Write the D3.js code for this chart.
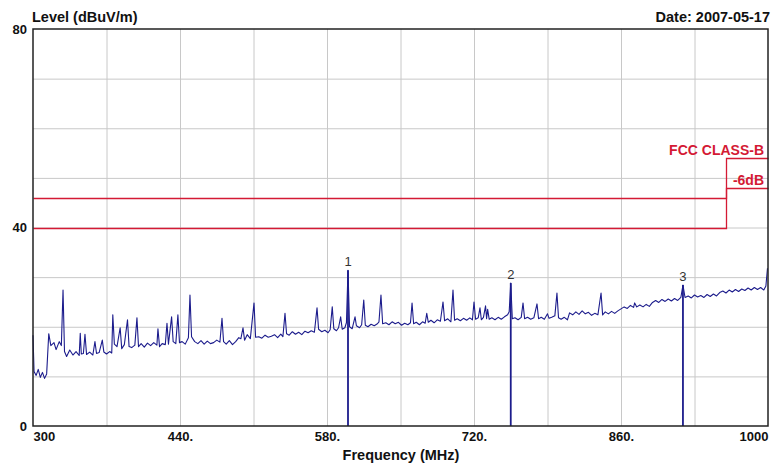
<!DOCTYPE html>
<html>
<head>
<meta charset="utf-8">
<script src="https://cdn.jsdelivr.net/npm/d3@7"></script>
<style>
  body { margin: 0; background: #fff; }
  text { font-family: "Liberation Sans", Arial, sans-serif; }
</style>
</head>
<body>
<div id="chart"></div>
<script>
// x tick labels (MHz) and y tick labels (dBuV/m)
const xTicks = [300, 440, 580, 720, 860, 1000]
const xTickLabels = ["300", "440.", "580.", "720.", "860.", "1000"]
const yTicks = [0, 40, 80]

// limit lines: [freq, level]
const fccClassB = [[300, 46], [960, 46], [960, 54], [1000, 54]]
const margin6dB = [[300, 40], [960, 40], [960, 48], [1000, 48]]

// markers
const markerIds = [1, 2, 3]
const markerFreq = [600, 755, 919]
const markerLevel = [31.4, 28.8, 28.4]

// measured trace: [freq MHz, level dBuV/m]
const trace = [
  [300,18.3],[301,11.0],[303,10.2],[305,11.4],[307,9.8],[309,10.8],[311,9.6],[313,10.5],
  [315,18.6],[317,16.2],[320,16.8],[322,15.4],[325,17.0],[327,16.2],[328.6,27.4],[330,15.0],
  [332,14.0],[335,15.3],[338,14.3],[341,15.0],[344,14.2],[345,18.7],[346,14.5],[348,14.6],
  [349.5,18.5],[351,14.4],[354,14.9],[357,14.3],[359,17.0],[360.5,14.6],[363,14.8],[366,17.3],
  [367.5,14.9],[370,14.5],[373,15.0],[375,14.7],[376,22.4],[377.5,16.5],[380,16.0],[383,19.8],
  [384.5,15.6],[387,16.4],[390,21.4],[391.5,16.0],[394,15.8],[397,16.3],[399,21.8],[400.5,16.0],
  [403,16.6],[406,15.9],[409,16.7],[412,16.2],[415,16.8],[418,16.3],[419,19.6],[420.5,16.0],
  [423,16.6],[426,16.4],[427.6,20.7],[429,16.5],[432,22.0],[433.5,17.0],[436,16.6],[438,22.4],
  [439.5,16.8],[442,17.0],[445,16.5],[448,17.8],[449.5,26.4],[451,18.0],[454,17.0],[457,16.6],
  [460,17.2],[463,16.5],[466,17.1],[469,16.6],[472,16.8],[475,17.3],[478,16.9],[480,21.7],
  [481.5,17.0],[484,16.5],[487,17.2],[490,16.4],[493,17.0],[496,17.8],[498,17.6],[500,19.8],
  [501.5,17.3],[504,18.4],[507,17.6],[510.5,24.8],[512,17.9],[515,18.0],[518,17.7],[521,18.3],
  [524,17.9],[527,18.1],[530,18.4],[533,17.8],[536,18.5],[538,18.0],[540,22.7],[541.5,18.6],
  [544,18.3],[547,19.0],[550,18.5],[553,18.9],[556,18.4],[559,19.1],[562,18.8],[565,19.2],
  [568,18.9],[570.5,23.8],[572,19.5],[575,19.0],[578,19.3],[581,18.8],[583,19.4],[585,24.0],
  [586.5,19.6],[589,19.2],[591,19.8],[593,22.0],[594.5,19.5],[597,19.8],[598.5,20.8],[600,31.4],
  [601.5,20.0],[604,19.6],[606.7,22.0],[608,20.2],[611,19.8],[613,20.4],[615,25.4],[616.5,20.3],
  [619,20.0],[622,20.5],[625,20.2],[628,20.6],[629.5,21.0],[631.4,26.4],[633,20.6],[636,20.8],
  [639,20.4],[642,21.0],[645,20.6],[648,20.9],[651,20.3],[654,20.7],[657,20.4],[659.5,20.8],
  [661,24.8],[662.5,20.6],[665,20.9],[668,20.4],[671,21.0],[673.5,20.7],[675,22.7],[676.5,20.9],
  [679,21.3],[682,20.8],[685,21.4],[688,21.1],[690.5,25.0],[692,21.2],[695,21.6],[698,21.0],
  [700,27.4],[701.5,21.3],[704,21.6],[707,21.2],[710,21.7],[713,21.3],[716,21.8],[718.5,21.4],
  [720,25.0],[721.5,21.5],[724,21.8],[725.7,23.8],[727,21.4],[729,21.9],[731,24.2],[732,21.6],
  [733,23.5],[734.5,21.5],[737,21.8],[740,21.4],[743,21.9],[746,21.5],[749,22.0],[752,22.4],
  [753.5,23.0],[755,28.8],[756.5,21.6],[759,21.8],[762,21.4],[765,21.9],[766.7,24.8],[768.2,21.6],
  [771,21.9],[774,21.5],[777,21.8],[780,24.6],[781.5,21.6],[784,21.9],[787,21.5],[790,22.6],
  [791.5,21.7],[794,21.9],[797,22.2],[799,26.8],[800.5,21.8],[803,21.5],[806,21.9],[809,21.4],
  [811,22.8],[814,22.4],[817,23.0],[820,22.5],[823,23.2],[826,22.6],[829,22.9],[832,22.3],
  [835,22.7],[838,22.4],[841,26.8],[842.5,22.4],[845,23.0],[848,22.6],[851,23.1],[854,22.7],
  [857,23.2],[860,23.6],[863,24.0],[866,23.7],[869,24.3],[872,23.9],[873,24.8],[875,24.0],
  [878,24.4],[881,24.0],[884,24.5],[887,24.1],[890,24.9],[893,25.3],[896,24.9],[899,25.5],
  [902,25.1],[905,25.6],[908,25.2],[911,25.7],[914,25.3],[917,25.9],[919,28.4],[921,25.9],
  [924,26.2],[927,25.8],[930,26.4],[933,26.0],[936,26.3],[939,25.9],[942,26.5],[945,26.1],
  [948,26.6],[951,26.2],[954,26.9],[957,27.2],[960,26.8],[963,27.4],[966,27.0],[969,27.5],
  [972,27.1],[975,27.6],[978,27.3],[981,27.8],[984,27.4],[987,27.9],[990,27.5],[993,27.9],
  [996,27.4],[998,28.2],[999.5,31.8]
]

const chartWidth = 779, chartHeight = 465
const plotLeft = 33, plotRight = 768, plotTop = 29, plotBottom = 426
const red = "#d41a34", blue = "#1c1c8c"

const svg = d3.select("#chart").append("svg")
  .attr("width", chartWidth).attr("height", chartHeight)

const x = d3.scaleLinear().domain([300, 1000]).range([plotLeft, plotRight])
const y = d3.scaleLinear().domain([0, 80]).range([plotBottom, plotTop])

// grid
svg.append("g")
  .attr("transform", `translate(0,${plotBottom})`)
  .call(d3.axisBottom(x).tickValues(d3.range(370, 1000, 70)).tickSize(-(plotBottom - plotTop)).tickFormat(""))
  .call(g => g.select(".domain").remove())
  .call(g => g.selectAll("line").attr("stroke", "#c8c8c8"))

svg.append("g")
  .attr("transform", `translate(${plotLeft},0)`)
  .call(d3.axisLeft(y).tickValues(d3.range(10, 80, 10)).tickSize(-(plotRight - plotLeft)).tickFormat(""))
  .call(g => g.select(".domain").remove())
  .call(g => g.selectAll("line").attr("stroke", "#c8c8c8"))

// limit lines
const line = d3.line().x(d => x(d[0])).y(d => y(d[1]))
const limitLine = d3.line().x(d => Math.round(x(d[0])) + 0.5).y(d => Math.round(y(d[1])) + 0.5)
svg.append("path").datum(fccClassB).attr("d", limitLine)
  .attr("fill", "none").attr("stroke", red).attr("stroke-width", 1.3)
svg.append("path").datum(margin6dB).attr("d", limitLine)
  .attr("fill", "none").attr("stroke", red).attr("stroke-width", 1.3)

svg.append("text").attr("x", plotRight - 4).attr("y", y(54) - 3)
  .attr("text-anchor", "end").attr("fill", red)
  .attr("font-size", 14).attr("font-weight", "bold").text("FCC CLASS-B")
svg.append("text").attr("x", plotRight - 4).attr("y", y(48) - 3)
  .attr("text-anchor", "end").attr("fill", red)
  .attr("font-size", 14).attr("font-weight", "bold").text("-6dB")

// markers
markerIds.forEach((id, i) => {
  svg.append("line")
    .attr("x1", x(markerFreq[i])).attr("x2", x(markerFreq[i]))
    .attr("y1", y(markerLevel[i])).attr("y2", y(0))
    .attr("stroke", blue).attr("stroke-width", 1.8)
  svg.append("text")
    .attr("x", x(markerFreq[i])).attr("y", y(markerLevel[i]) - 4)
    .attr("text-anchor", "middle").attr("font-size", 13).attr("fill", "#333")
    .text(id)
})

// trace
svg.append("path").datum(trace).attr("d", line)
  .attr("fill", "none").attr("stroke", blue).attr("stroke-width", 1.1)
  .attr("stroke-linejoin", "round")

// frame
svg.append("rect")
  .attr("x", plotLeft).attr("y", plotTop)
  .attr("width", plotRight - plotLeft).attr("height", plotBottom - plotTop)
  .attr("fill", "none").attr("stroke", "#222").attr("stroke-width", 1.5)

// axes labels
const xAxis = svg.append("g")
  .attr("transform", `translate(0,${plotBottom})`)
  .call(d3.axisBottom(x).tickValues(xTicks).tickSize(0).tickPadding(6)
    .tickFormat((d, i) => xTickLabels[i]))
xAxis.select(".domain").remove()
xAxis.selectAll("text")
  .attr("font-family", "Liberation Sans, Arial, sans-serif")
  .attr("font-size", 13).attr("font-weight", "bold").attr("fill", "#111")
  .attr("text-anchor", (d, i) => i === 0 ? "start" : i === xTicks.length - 1 ? "end" : "middle")

const yAxis = svg.append("g")
  .attr("transform", `translate(${plotLeft},0)`)
  .call(d3.axisLeft(y).tickValues(yTicks).tickSize(0).tickPadding(6))
yAxis.select(".domain").remove()
yAxis.selectAll("text")
  .attr("font-family", "Liberation Sans, Arial, sans-serif")
  .attr("font-size", 13).attr("font-weight", "bold").attr("fill", "#111")

svg.append("text").attr("x", plotLeft - 1).attr("y", 22)
  .attr("font-size", 14.5).attr("font-weight", "bold").attr("fill", "#111")
  .text("Level (dBuV/m)")
svg.append("text").attr("x", plotRight + 2).attr("y", 22).attr("text-anchor", "end")
  .attr("font-size", 14.5).attr("font-weight", "bold").attr("fill", "#111")
  .text("Date: 2007-05-17")
svg.append("text").attr("x", 401).attr("y", 460).attr("text-anchor", "middle")
  .attr("font-size", 14.5).attr("font-weight", "bold").attr("fill", "#111")
  .text("Frequency (MHz)")
</script>
</body>
</html>
